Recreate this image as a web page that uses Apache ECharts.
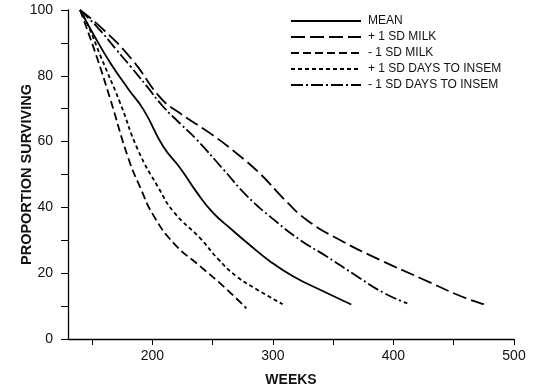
<!DOCTYPE html>
<html>
<head>
<meta charset="utf-8">
<script src="https://cdn.jsdelivr.net/npm/echarts@6/dist/echarts.min.js"></script>
<style>
  html, body { margin: 0; padding: 0; background: #fff; }
  #chart { width: 538px; height: 390px; }
</style>
</head>
<body>
<div id="chart"></div>
<script>
// curve data: [weeks, proportion surviving]
const meanData = [[140,100],[152,92],[165,84],[180,76],[193,69.5],[209,58.5],[223,52],[237,44.5],[250,38.5],[265,33.5],[281,28.5],[298,23.5],[317,19],[340,14.8],[365,10.5]];
const plusMilk = [[140,100],[158,94.5],[183,85],[207,73.2],[223,68.6],[248,62.5],[270,56.4],[290,50],[308,43],[328,36.2],[356,30],[389,24],[423,18.4],[456,13],[475,10.6]];
const minusMilk = [[140,100],[145,95],[155,84.5],[165,73],[180,55],[190,46],[201,37.5],[218,29],[240,22],[259,16],[278,9.3]];
const plusDays = [[140,100],[147,95],[157,86],[173,72],[188,57.5],[205,46],[218,38.5],[240,30.5],[254,24.5],[270,19],[287,15],[308,10.6]];
const minusDays = [[140,100],[155,94.5],[170,88],[182,82.8],[195,77],[209,70.6],[223,65.5],[237,60.5],[259,51.5],[279,43.3],[301,36.2],[323,30],[345,25],[370,19],[392,14],[411.5,10.8]];

const seriesNames = ['MEAN', '+ 1 SD MILK', '- 1 SD MILK', '+ 1 SD DAYS TO INSEM', '- 1 SD DAYS TO INSEM'];
const xTicks = [150, 200, 250, 300, 350, 400, 450, 500];
const xLabels = [200, 300, 400, 500];

const font = "'Liberation Sans', Arial, Helvetica, sans-serif";
const chart = echarts.init(document.getElementById('chart'));

const mk = (name, data, type) => ({
  name: name,
  type: 'line',
  data: data,
  smooth: 0.5,
  symbol: 'none',
  lineStyle: { color: '#000', width: 1.8, type: type },
  itemStyle: { color: '#000' }
});

chart.setOption({
  animation: false,
  textStyle: { fontFamily: font },
  grid: { left: 68, right: 24, top: 10, bottom: 51, outerBoundsMode: 'none' },
  legend: {
    orient: 'vertical',
    left: 285,
    top: 10,
    itemWidth: 70,
    itemHeight: 12,
    itemGap: 4,
    itemStyle: { opacity: 0 },
    data: seriesNames,
    textStyle: { fontSize: 12, color: '#111', fontFamily: font, padding: [0, 0, 0, 2] }
  },
  xAxis: {
    type: 'value',
    min: 130,
    max: 500,
    name: 'WEEKS',
    nameLocation: 'middle',
    nameGap: 34,
    nameMoveOverlap: false,
    nameTextStyle: { fontSize: 14, fontWeight: 'bold', color: '#111' },
    axisLine: { lineStyle: { color: '#000', width: 1.3 } },
    axisTick: { customValues: xTicks, length: 6, lineStyle: { color: '#000' } },
    axisLabel: { customValues: xLabels, fontSize: 14, color: '#111', margin: 10 },
    splitLine: { show: false }
  },
  yAxis: {
    type: 'value',
    min: 0,
    max: 100,
    interval: 10,
    name: 'PROPORTION SURVIVING',
    nameLocation: 'middle',
    nameGap: 34,
    nameMoveOverlap: false,
    nameTextStyle: { fontSize: 14.5, fontWeight: 'bold', color: '#111' },
    axisLine: { show: true, lineStyle: { color: '#000', width: 1.3 } },
    axisTick: { show: true, length: 7, lineStyle: { color: '#000' } },
    axisLabel: {
      fontSize: 14, color: '#111', margin: 15,
      formatter: v => (v % 20 === 0 ? String(v) : '')
    },
    splitLine: { show: false }
  },
  series: [
    mk(seriesNames[0], meanData, 'solid'),
    mk(seriesNames[1], plusMilk, [14, 5]),
    mk(seriesNames[2], minusMilk, [8, 4]),
    mk(seriesNames[3], plusDays, [4, 3]),
    mk(seriesNames[4], minusDays, [12, 3, 2, 3])
  ]
});
</script>
</body>
</html>
